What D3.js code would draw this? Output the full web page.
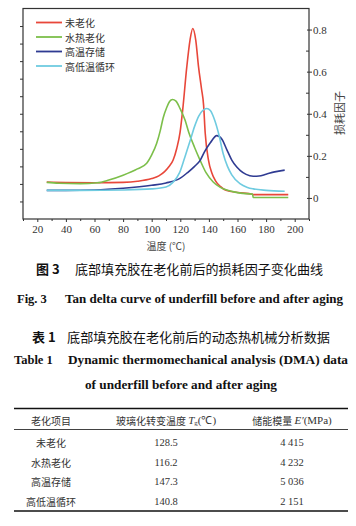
<!DOCTYPE html>
<html><head><meta charset="utf-8">
<script src="https://cdn.jsdelivr.net/npm/d3@7"></script>
<style>body{margin:0;background:#fff} svg{display:block}</style>
</head><body><svg id="c" width="356" height="526"></svg>
<script>
// ---------- data ----------
const seriesNames = ["未老化", "水热老化", "高温存储", "高低温循环"];
const seriesColors = ["#e8473a", "#7cbf4a", "#2f3b92", "#6fcbe0"];

const tempUnaged = [26.6, 40, 60, 80, 90, 100, 105, 109, 112, 115, 117.5, 119.8, 121.7, 124.5, 126.8, 128.7, 130.8, 132.8, 134.8, 136.3, 137.4, 139.7, 142, 144.4, 148, 152, 160, 170.5, 171, 195.5];
const tanUnaged  = [0.075, 0.073, 0.072, 0.074, 0.079, 0.092, 0.105, 0.125, 0.148, 0.18, 0.235, 0.31, 0.42, 0.62, 0.75, 0.805, 0.75, 0.62, 0.52, 0.44, 0.31, 0.18, 0.12, 0.084, 0.055, 0.036, 0.026, 0.018, 0.016, 0.016];

const tempHydro = [26.6, 35, 50, 62, 70, 80, 90, 96.5, 100, 103.5, 106, 108, 110.5, 112.5, 114.5, 117, 119.8, 123.3, 126, 130, 133.8, 138, 143, 148, 155, 162, 170.5, 171, 195.5];
const tanHydro  = [0.074, 0.07, 0.068, 0.072, 0.085, 0.108, 0.138, 0.165, 0.205, 0.26, 0.32, 0.38, 0.43, 0.458, 0.468, 0.46, 0.425, 0.37, 0.31, 0.24, 0.18, 0.12, 0.076, 0.05, 0.033, 0.023, 0.018, 0.002, 0.002];

const tempStorage = [26.6, 40, 60, 80, 100, 110, 120, 125, 130, 134, 137, 141, 145.5, 149, 152.5, 156, 159.5, 162, 166, 171, 175, 180, 186, 193];
const tanStorage  = [0.036, 0.036, 0.038, 0.046, 0.06, 0.071, 0.094, 0.12, 0.15, 0.18, 0.22, 0.262, 0.296, 0.28, 0.23, 0.18, 0.147, 0.13, 0.112, 0.103, 0.104, 0.113, 0.124, 0.132];

const tempCycle = [26.6, 50, 80, 100, 110, 115, 119.5, 123, 126.8, 130, 133, 138.5, 141, 144, 147, 150, 153, 156, 161.7, 167, 171, 180, 193];
const tanCycle  = [0.036, 0.036, 0.038, 0.043, 0.052, 0.075, 0.12, 0.19, 0.27, 0.34, 0.39, 0.425, 0.415, 0.37, 0.30, 0.21, 0.15, 0.11, 0.068, 0.05, 0.043, 0.036, 0.032];

const xTicks = [20, 40, 60, 80, 100, 120, 140, 160, 180, 200];
const yRightTicks = [0, 0.2, 0.4, 0.6, 0.8];

const tableHeader = ["老化项目", "玻璃化转变温度", "储能模量"];
const tableItems = ["未老化", "水热老化", "高温存储", "高低温循环"];
const tableTg = ["128.5", "116.2", "147.3", "140.8"];
const tableModulus = ["4 415", "4 232", "5 036", "2 151"];

// ---------- drawing ----------
const svg = d3.select("#c");
svg.append("rect").attr("width", 356).attr("height", 526).attr("fill", "#fff");

const x = d3.scaleLinear().domain([10, 210]).range([23, 309]);
const y = d3.scaleLinear().domain([-0.1, 0.9]).range([219, 8.5]);
const yLeft = d3.scaleLinear().domain([0, 12]).range([219, 8.5]);

const axisColor = "#333";
const numFont = "'Liberation Serif', 'Times New Roman', serif";
const cjkFont = "'Noto Sans CJK SC', sans-serif";

function styleAxis(g) {
  g.select(".domain").remove();
  g.selectAll(".tick line").attr("stroke", axisColor).attr("stroke-width", 1);
  g.selectAll(".tick text").attr("fill", "#333").style("font-family", numFont).style("font-size", "11px");
}

// bottom axis
svg.append("g").attr("transform", "translate(0,219)")
  .call(d3.axisBottom(x).tickValues(xTicks).tickSize(3).tickPadding(3).tickFormat(d3.format("d")))
  .call(styleAxis);
svg.append("g").attr("transform", "translate(0,219)")
  .call(d3.axisBottom(x).tickValues(d3.range(10, 211, 20)).tickSize(2).tickFormat(""))
  .call(styleAxis);

// left axis (unlabelled)
svg.append("g").attr("transform", "translate(23,0)")
  .call(d3.axisLeft(yLeft).tickValues(d3.range(1, 12)).tickSize(3).tickFormat(""))
  .call(styleAxis);

// right axis
const gr = svg.append("g").attr("transform", "translate(309,0)")
  .call(d3.axisRight(y).tickValues(yRightTicks).tickSize(3).tickPadding(1)
    .tickFormat(d => d === 0 ? "0" : d3.format(".1f")(d)))
  .call(styleAxis);
gr.selectAll(".tick line").attr("x1", -2);
svg.append("g").attr("transform", "translate(309,0)")
  .call(d3.axisLeft(y).tickValues([0.1, 0.3, 0.5, 0.7]).tickSize(3).tickFormat(""))
  .call(styleAxis);

// frame
svg.append("rect").attr("x", 23).attr("y", 8.5).attr("width", 286).attr("height", 210.5)
  .attr("fill", "none").attr("stroke", axisColor).attr("stroke-width", 1.2);

// curves
const allSeries = [
  [tempUnaged, tanUnaged],
  [tempHydro, tanHydro],
  [tempStorage, tanStorage],
  [tempCycle, tanCycle]
];
const line = d3.line().x(d => x(d[0])).y(d => y(d[1])).curve(d3.curveMonotoneX);
allSeries.forEach((s, i) => {
  const pts = s[0].map((t, j) => [t, s[1][j]]);
  svg.append("path").datum(pts).attr("d", line)
    .attr("fill", "none").attr("stroke", seriesColors[i]).attr("stroke-width", 1.6)
    .attr("stroke-linejoin", "round");
});

// legend
seriesNames.forEach((n, i) => {
  const yy = 22.5 + 14.5 * i;
  svg.append("line").attr("x1", 36).attr("x2", 62).attr("y1", yy).attr("y2", yy)
    .attr("stroke", seriesColors[i]).attr("stroke-width", 1.8);
  svg.append("text").attr("x", 65).attr("y", yy).attr("dominant-baseline", "central")
    .style("font-family", cjkFont).style("font-size", "10px").attr("fill", "#333").text(n);
});

// axis titles
svg.append("text").attr("x", 166).attr("y", 245).attr("text-anchor", "middle")
  .attr("dominant-baseline", "central").style("font-family", cjkFont).style("font-size", "10px")
  .attr("fill", "#444").text("温度 (℃)");
svg.append("text").attr("transform", "translate(339,113) rotate(-90)").attr("text-anchor", "middle")
  .attr("dominant-baseline", "central").style("font-family", cjkFont).style("font-size", "11px")
  .attr("fill", "#444").text("损耗因子");

// captions
function txt(xx, yy, s, font, size, weight, anchor, len) {
  const t = svg.append("text").attr("x", xx).attr("y", yy).attr("dominant-baseline", "central")
    .attr("text-anchor", anchor || "start")
    .style("font-family", font).style("font-size", size + "px").style("font-weight", weight || "normal")
    .attr("fill", "#111").text(s);
  if (len) t.attr("textLength", len).attr("lengthAdjust", "spacingAndGlyphs");
  return t;
}
txt(36, 268.5, "图 3", cjkFont, 13, "bold");
txt(75, 268.5, "底部填充胶在老化前后的损耗因子变化曲线", cjkFont, 13, "normal", "start", 248);
txt(17, 298.5, "Fig. 3", numFont, 12.5, "bold");
txt(65, 298.5, "Tan delta curve of underfill before and after aging", numFont, 12.5, "bold", "start", 278);
txt(32, 336, "表 1", cjkFont, 13, "bold");
txt(67, 336, "底部填充胶在老化前后的动态热机械分析数据", cjkFont, 13, "normal", "start", 263);
txt(14, 360, "Table 1", numFont, 12.5, "bold");
txt(68, 360, "Dynamic thermomechanical analysis (DMA) data", numFont, 12.5, "bold", "start", 280);
txt(181, 385, "of underfill before and after aging", numFont, 12.5, "bold", "middle", 192);

// table
svg.append("line").attr("x1", 14).attr("x2", 348).attr("y1", 408.5).attr("y2", 408.5).attr("stroke", "#111").attr("stroke-width", 1.6);
svg.append("line").attr("x1", 14).attr("x2", 348).attr("y1", 429.5).attr("y2", 429.5).attr("stroke", "#111").attr("stroke-width", 0.8);
svg.append("line").attr("x1", 14).attr("x2", 348).attr("y1", 511).attr("y2", 511).attr("stroke", "#111").attr("stroke-width", 1.6);

const colX = [51, 166, 292];
const hdrY = 420;
function tcell(xx, yy, s, font) {
  return svg.append("text").attr("x", xx).attr("y", yy).attr("text-anchor", "middle")
    .attr("dominant-baseline", "central").style("font-family", font).style("font-size", "10px")
    .attr("fill", "#333").text(s);
}
tcell(colX[0], hdrY, tableHeader[0], cjkFont);
const h2 = svg.append("text").attr("x", colX[1]).attr("y", hdrY).attr("text-anchor", "middle")
  .attr("dominant-baseline", "central").style("font-size", "10px").attr("fill", "#333");
h2.append("tspan").style("font-family", cjkFont).text(tableHeader[1] + " ");
h2.append("tspan").style("font-family", numFont).style("font-style", "italic").style("font-size", "11px").text("T");
h2.append("tspan").style("font-family", numFont).style("font-size", "7px").attr("dy", 3).text("g");
h2.append("tspan").style("font-family", numFont).style("font-size", "11px").attr("dy", -3).text("(℃)");
const h3 = svg.append("text").attr("x", colX[2]).attr("y", hdrY).attr("text-anchor", "middle")
  .attr("dominant-baseline", "central").style("font-size", "10px").attr("fill", "#333");
h3.append("tspan").style("font-family", cjkFont).text(tableHeader[2] + " ");
h3.append("tspan").style("font-family", numFont).style("font-style", "italic").style("font-size", "11px").text("E′");
h3.append("tspan").style("font-family", numFont).style("font-size", "11px").text("(MPa)");

const rowY = [442.7, 462.3, 481.7, 501];
tableItems.forEach((s, i) => {
  tcell(colX[0], rowY[i], s, cjkFont);
  tcell(colX[1], rowY[i], tableTg[i], numFont).style("font-size", "10.5px");
  tcell(colX[2], rowY[i], tableModulus[i], numFont).style("font-size", "10.5px");
});
</script></body></html>
